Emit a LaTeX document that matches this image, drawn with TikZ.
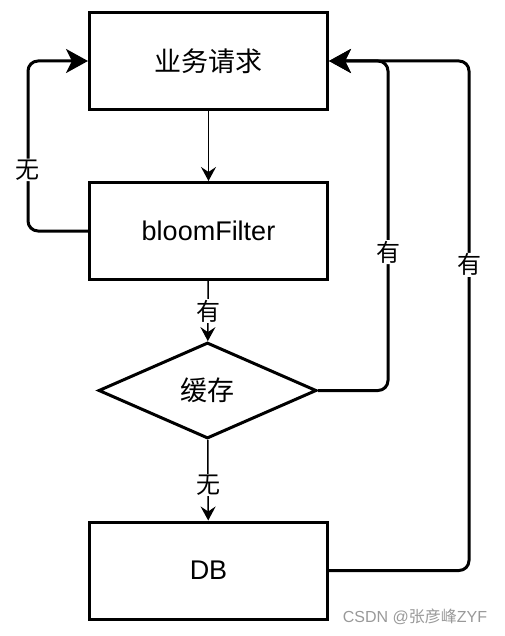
\documentclass[tikz,border=0pt]{standalone}
\usepackage{fontspec}
\setmainfont{Liberation Sans}
\newfontfamily\cjk{Noto Sans CJK SC}
\usetikzlibrary{shapes.geometric,arrows.meta}

\begin{document}
\begin{tikzpicture}[x=1pt,y=-1pt,
  box/.style={draw,line width=3pt,minimum width=238pt,minimum height=97pt,inner sep=0pt,font=\fontsize{27}{32}\selectfont},
  cond/.style={draw,diamond,line width=3pt,minimum width=218pt,minimum height=96pt,inner sep=0pt,font=\fontsize{27}{32}\selectfont},
  down/.style={line width=1.5pt,-{Stealth[length=14pt,width=15pt,inset=5pt]}},
  back/.style={line width=3pt,rounded corners=10pt,-{Stealth[length=22pt,width=24pt,inset=6pt]}},
  lbl/.style={fill=white,inner sep=1pt,font=\cjk\fontsize{24}{28}\selectfont}]
\useasboundingbox (0,0) rectangle (505,636);
\node[box] (req) at (208.5,61) {{\cjk 业务请求}};
\node[box] (bf) at (208.5,231) {bloomFilter};
\node[cond] (cache) at (207.5,390.5) {{\cjk 缓存}};
\node[box] (db) at (208.5,570.5) {DB};
\draw[down] (req) -- (bf);
\draw[down] (bf) -- node[lbl]{有} (cache);
\draw[down] (cache) -- node[lbl,pos=0.56]{无} (db);
\draw[back] (bf.west) -- ++(-60,0) |- node[lbl,pos=0.18]{无} (req.west);
\draw[back] (cache.east) -- ++(70,0) |- node[lbl,pos=0.21]{有} (req.east);
\draw[back] (db.east) -- ++(140,0) |- node[lbl,pos=0.3]{有} (req.east);
\node[text=black!40,font=\fontsize{16}{19}\selectfont] (mark) at (415,617) {CSDN @{\cjk 张彦峰}ZYF};
\end{tikzpicture}
\end{document}
